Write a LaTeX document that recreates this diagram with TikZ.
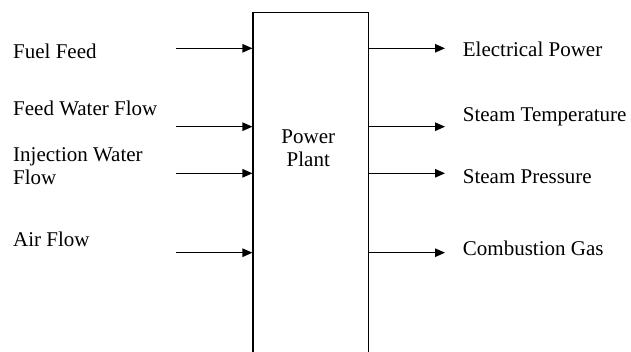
\documentclass[tikz,border=0pt]{standalone}
\usepackage{fontspec}
\setmainfont{Liberation Serif}
\usetikzlibrary{arrows.meta}
\begin{document}
\begin{tikzpicture}[x=1pt,y=-1pt,
  lbl/.style={anchor=base west,inner sep=0pt,font=\fontsize{21}{23.3}\selectfont},
  flow/.style={line width=1.2pt,-{Triangle[length=10pt,width=8.5pt]}},
  plantbox/.style={draw,line width=1.2pt,rectangle,inner sep=0pt}]
\clip (0,0) rectangle (631,352);
\useasboundingbox (0,0) rectangle (631,352);
\node[plantbox,minimum width=115.7pt,minimum height=350pt] (plant) at (310.85,187.3) {};
\node[inner sep=0pt,align=center,font=\fontsize{21}{23.3}\selectfont,anchor=base] (ptext) at (308.3,166.7) {Power\\Plant};
% inputs
\node[lbl] (l1) at (13,58.3) {Fuel Feed};
\node[lbl] (l2) at (13,116) {Feed Water Flow};
\node[lbl,align=left] (l3) at (13,185) {Injection Water\\Flow};
\node[lbl] (l4) at (13,246.7) {Air Flow};
% outputs
\node[lbl] (r1) at (462.7,56.7) {Electrical Power};
\node[lbl] (r2) at (462.7,121.7) {Steam Temperature};
\node[lbl] (r3) at (462.7,183.3) {Steam Pressure};
\node[lbl] (r4) at (462.7,256) {Combustion Gas};
% arrow ends
\coordinate (a1) at (176,48.3);
\coordinate (a2) at (176,126.7);
\coordinate (a3) at (176,173.3);
\coordinate (a4) at (176,252.7);
\coordinate (b1) at (445,48.3);
\coordinate (b2) at (445,126.7);
\coordinate (b3) at (445,173.3);
\coordinate (b4) at (445,252.7);
\foreach \i in {1,2,3,4}{
  \draw[flow] (a\i) -- (a\i -| plant.west);
  \draw[flow] (b\i -| plant.east) -- (b\i);
}
\end{tikzpicture}
\end{document}
